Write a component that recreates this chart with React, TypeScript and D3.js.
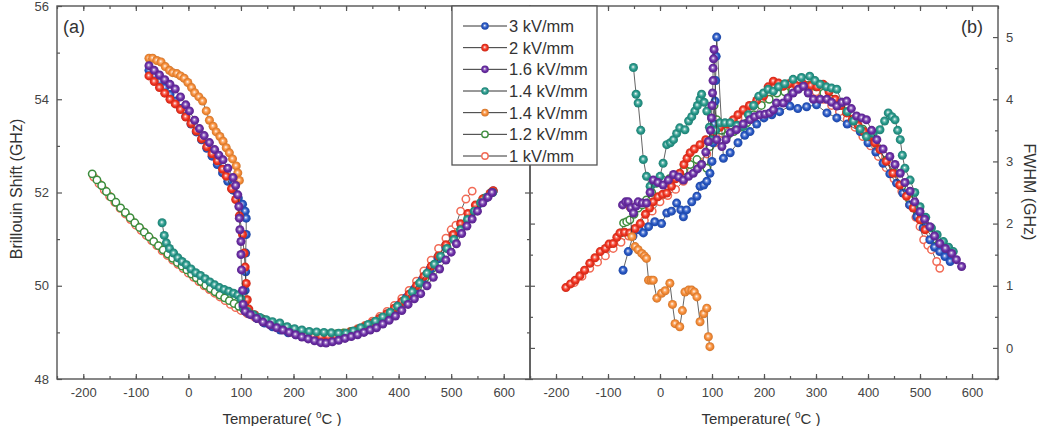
import React, { useRef, useEffect } from "react";
import * as d3 from "d3";

// series labels (legend order)
const seriesLabels = ["3 kV/mm", "2 kV/mm", "1.6 kV/mm", "1.4 kV/mm", "1.4 kV/mm", "1.2 kV/mm", "1 kV/mm"];

// tick values
const shiftTicks = [48, 50, 52, 54, 56];
const fwhmTicks = [0, 1, 2, 3, 4, 5];
const tempTicks = [-200, -100, 0, 100, 200, 300, 400, 500, 600];

// panel (a): Brillouin shift (GHz) vs temperature (C)
const bs3 = [[-75,54.62],[-65,54.5],[-55,54.38],[-45,54.25],[-35,54.1],[-25,53.96],[-15,53.8],[-5,53.63],[5,53.47],[15,53.3],[25,53.13],[35,52.95],[45,52.78],[55,52.6],[65,52.42],[75,52.24],[85,52.05],[95,51.88],[103,51.75],[108,51.6],[110,51.45],[110,51.1],[109,50.7],[109,50.3],[108,49.9],[108,49.55],[115,49.4],[130,49.3],[145,49.2],[160,49.12],[175,49.05],[190,48.99],[205,48.95],[220,48.92],[235,48.9],[250,48.88],[265,48.88],[280,48.9],[295,48.93],[310,48.97],[325,49.03],[340,49.1],[355,49.2],[370,49.3],[385,49.43],[400,49.58],[415,49.75],[430,49.93],[445,50.13],[460,50.35],[475,50.58],[490,50.82],[505,51.06],[520,51.3],[535,51.53],[550,51.72],[565,51.88],[580,52.03]];
const bs2 = [[-75,54.5],[-65,54.38],[-55,54.25],[-45,54.13],[-35,54.0],[-25,53.9],[-15,53.78],[-5,53.62],[5,53.48],[15,53.32],[25,53.15],[35,52.98],[45,52.83],[55,52.68],[65,52.5],[72,52.35],[82,52.08],[90,51.85],[97,51.5],[103,51.1],[106,50.7],[108,50.4],[110,50.05],[112,49.7],[115,49.5],[126,49.38],[140,49.28],[154,49.2],[168,49.13],[182,49.06],[196,49.01],[210,48.97],[224,48.94],[238,48.92],[252,48.91],[266,48.91],[280,48.92],[294,48.95],[308,48.99],[322,49.05],[336,49.12],[350,49.2],[364,49.3],[378,49.4],[392,49.52],[406,49.66],[420,49.82],[434,50.0],[448,50.2],[462,50.42],[476,50.64],[490,50.88],[504,51.1],[518,51.33],[532,51.55],[546,51.73],[560,51.86],[574,51.98],[580,52.04]];
const bs16 = [[-75,54.72],[-65,54.62],[-55,54.52],[-45,54.42],[-35,54.32],[-25,54.22],[-15,54.05],[-5,53.88],[2,53.75],[12,53.55],[21,53.37],[30,53.22],[40,53.07],[50,52.92],[58,52.8],[66,52.7],[75,52.52],[85,52.32],[90,52.15],[94,51.95],[96,51.7],[97,51.45],[98,51.2],[100,50.95],[100,50.67],[101,50.34],[103,49.9],[104,49.6],[108,49.45],[118,49.38],[130,49.3],[142,49.22],[155,49.16],[168,49.1],[180,49.05],[192,49.0],[204,48.95],[216,48.9],[228,48.86],[240,48.82],[252,48.78],[262,48.77],[274,48.8],[286,48.83],[298,48.87],[310,48.91],[322,48.95],[334,49.0],[346,49.05],[358,49.1],[370,49.18],[382,49.26],[394,49.35],[406,49.47],[418,49.6],[430,49.72],[442,49.83],[454,50.0],[466,50.18],[478,50.36],[490,50.55],[500,50.72],[510,50.9],[520,51.12],[530,51.28],[540,51.43],[550,51.6],[560,51.78],[570,51.9],[578,52.0]];
const bs14a = [[-50,51.35],[-46,51.08],[-42,50.92],[-36,50.8],[-28,50.7],[-20,50.6],[-12,50.52],[-4,50.45],[5,50.36],[14,50.28],[23,50.22],[32,50.15],[41,50.08],[50,50.02],[59,49.96],[68,49.92],[77,49.88],[86,49.84],[94,49.8],[100,49.72],[104,49.55],[112,49.45],[124,49.38],[136,49.32],[148,49.27],[160,49.23],[174,49.2],[188,49.12],[202,49.08],[216,49.05],[230,49.02],[244,49.01],[258,49.0],[272,48.99],[286,48.98],[300,48.98],[314,49.03],[328,49.1],[342,49.17],[356,49.24],[370,49.33],[384,49.43],[398,49.56],[412,49.7],[426,49.87],[440,50.06],[454,50.27],[468,50.46],[480,50.63],[492,50.8],[505,50.99],[518,51.2],[531,51.42],[544,51.6],[556,51.78],[568,51.9],[579,52.0]];
const bs14b = [[-75,54.88],[-68,54.88],[-60,54.83],[-52,54.8],[-44,54.7],[-36,54.62],[-30,54.57],[-22,54.55],[-15,54.5],[-8,54.45],[-1,54.36],[6,54.25],[12,54.14],[20,54.05],[27,53.96],[34,53.75],[40,53.55],[47,53.42],[53,53.3],[60,53.2],[66,53.1],[72,52.96],[78,52.85],[84,52.72],[91,52.57],[94,52.42],[97,52.26]];
const bs12 = [[-183,52.4],[-174,52.27],[-165,52.15],[-156,52.02],[-147,51.9],[-138,51.79],[-129,51.67],[-120,51.57],[-111,51.46],[-102,51.35],[-93,51.25],[-84,51.15],[-75,51.05],[-66,50.95],[-57,50.86],[-48,50.77],[-39,50.68],[-30,50.59],[-21,50.5],[-12,50.42],[-3,50.34],[6,50.25],[15,50.17],[24,50.09],[33,50.01],[42,49.94],[51,49.87],[60,49.8],[69,49.74],[78,49.68],[87,49.62],[96,49.56],[105,49.5],[116,49.42],[128,49.35],[142,49.28],[156,49.22],[170,49.16],[184,49.1],[198,49.06],[212,49.02],[226,48.99],[240,48.97],[254,48.96],[268,48.96],[282,48.97],[296,48.99],[310,49.02],[324,49.07],[338,49.13],[352,49.2],[366,49.29],[380,49.39],[394,49.5],[408,49.64],[422,49.8],[436,49.97],[450,50.16],[464,50.37],[478,50.59],[492,50.83],[506,51.07],[520,51.3],[534,51.52],[548,51.72],[562,51.87],[576,52.0]];
const bs1 = [[-180,52.33],[-170,52.19],[-160,52.05],[-150,51.92],[-140,51.79],[-130,51.66],[-120,51.54],[-110,51.42],[-100,51.3],[-90,51.19],[-80,51.08],[-70,50.97],[-60,50.86],[-50,50.75],[-40,50.65],[-30,50.55],[-20,50.46],[-10,50.37],[0,50.27],[10,50.18],[20,50.09],[30,50.0],[40,49.92],[50,49.84],[60,49.76],[70,49.68],[80,49.6],[90,49.53],[100,49.47],[112,49.4],[126,49.33],[140,49.26],[154,49.2],[168,49.14],[182,49.08],[196,49.03],[210,48.99],[224,48.96],[238,48.94],[252,48.93],[266,48.93],[280,48.95],[294,48.98],[308,49.02],[322,49.08],[336,49.15],[350,49.24],[364,49.34],[378,49.45],[392,49.58],[406,49.73],[420,49.9],[434,50.1],[448,50.32],[462,50.55],[476,50.8],[490,51.02],[500,51.2],[509,51.3],[518,51.6],[528,51.86],[540,52.03]];

// panel (b): FWHM (GHz) vs temperature (C)
const fw3 = [[-71,1.25],[-61,1.55],[-52,1.8],[-40,1.9],[-32,1.85],[-22,1.95],[-10,2.03],[3,2.0],[13,2.17],[22,2.2],[32,2.33],[40,2.22],[45,2.11],[51,2.22],[61,2.35],[71,2.44],[77,2.6],[84,2.62],[90,2.68],[96,2.81],[100,3.0],[102,3.3],[104,3.6],[106,3.97],[107,4.3],[108,4.69],[109,5.0],[122,3.05],[135,3.14],[150,3.3],[163,3.42],[173,3.48],[186,3.6],[200,3.7],[215,3.75],[230,3.8],[250,3.89],[265,3.85],[282,3.88],[301,3.91],[321,3.78],[340,3.7],[360,3.6],[385,3.48],[400,3.3],[415,3.15],[429,2.97],[442,2.8],[455,2.65],[467,2.49],[480,2.3],[494,2.11],[506,1.93],[519,1.74],[528,1.62],[538,1.55],[548,1.47],[558,1.39]];
const fw2 = [[-181,0.97],[-172,1.03],[-163,1.09],[-154,1.16],[-145,1.25],[-135,1.36],[-125,1.45],[-115,1.55],[-105,1.6],[-98,1.67],[-90,1.68],[-83,1.78],[-77,1.85],[-68,1.86],[-58,1.85],[-48,1.92],[-38,2.0],[-28,2.15],[-20,2.25],[-13,2.35],[-4,2.43],[5,2.47],[13,2.49],[22,2.6],[30,2.72],[38,2.81],[46,2.95],[52,3.05],[58,3.14],[66,3.2],[77,3.27],[88,3.35],[102,3.46],[115,3.55],[128,3.6],[141,3.67],[150,3.75],[160,3.83],[172,3.9],[186,3.98],[199,4.05],[208,4.2],[218,4.29],[228,4.26],[237,4.21],[248,4.25],[262,4.22],[276,4.24],[290,4.22],[302,4.2],[314,4.24],[325,4.12],[337,4.0],[348,3.9],[359,3.78],[370,3.68],[381,3.58],[392,3.48],[402,3.4],[413,3.3],[423,3.19],[435,3.0],[448,2.81],[461,2.62],[474,2.44],[487,2.25],[500,2.06],[510,1.9]];
const fw16 = [[-72,2.3],[-66,2.35],[-61,2.35],[-56,2.25],[-51,2.17],[-46,2.28],[-42,2.35],[-34,2.33],[-26,2.33],[-19,2.5],[-13,2.7],[-4,2.66],[6,2.62],[16,2.7],[26,2.79],[36,2.75],[45,2.7],[55,2.76],[64,2.81],[72,2.88],[80,2.95],[88,3.15],[93,3.32],[97,3.5],[99,3.7],[100,3.9],[101,4.1],[102,4.3],[102,4.5],[103,4.65],[104,4.8],[109,3.35],[119,3.24],[127,3.35],[135,3.46],[147,3.51],[160,3.6],[173,3.67],[182,3.72],[192,3.75],[202,3.76],[211,3.78],[218,3.83],[224,3.94],[237,3.94],[246,4.02],[256,4.1],[266,4.16],[276,4.21],[285,4.1],[295,4.0],[308,4.0],[321,4.0],[330,3.95],[340,3.89],[350,3.95],[359,3.97],[368,3.85],[378,3.73],[388,3.7],[397,3.67],[407,3.5],[417,3.35],[429,3.2],[442,3.08],[452,2.95],[462,2.81],[471,2.66],[481,2.52],[490,2.35],[500,2.19],[509,2.07],[519,1.95],[528,1.8],[538,1.68],[549,1.6],[561,1.52],[570,1.42],[580,1.31]];
const fw14a = [[-51,4.51],[-46,4.08],[-42,3.94],[-37,3.5],[-32,3.03],[-26,2.76],[-19,2.6],[-10,2.65],[0,2.76],[6,2.97],[13,3.27],[20,3.3],[26,3.35],[32,3.45],[38,3.54],[48,3.51],[55,3.65],[61,3.72],[67,3.81],[72,3.9],[77,4.0],[80,4.08],[85,3.95],[90,3.81],[95,3.55],[99,3.35],[107,3.5],[115,3.62],[125,3.62],[135,3.62],[148,3.58],[160,3.56],[170,3.75],[180,3.9],[190,4.05],[199,4.1],[208,4.16],[218,4.13],[228,4.2],[240,4.25],[256,4.32],[272,4.35],[288,4.37],[298,4.3],[308,4.24],[320,4.2],[330,4.18],[340,4.16],[350,3.95],[360,3.8],[372,3.65],[385,3.52],[397,3.4],[410,3.45],[423,3.51],[432,3.65],[439,3.78],[446,3.72],[452,3.67],[457,3.5],[462,3.35],[466,3.1],[471,2.89],[481,2.7],[490,2.5],[500,2.27],[511,2.1],[522,1.93],[533,1.82],[545,1.71],[555,1.62],[564,1.55]];
const fw14b = [[-58,2.27],[-54,1.79],[-48,1.63],[-42,1.58],[-35,1.52],[-30,1.48],[-26,1.44],[-22,1.09],[-17,1.09],[-13,1.09],[-6,0.8],[3,0.88],[10,0.92],[19,1.04],[24,0.7],[29,0.39],[38,0.34],[43,0.6],[48,0.9],[55,0.93],[61,0.93],[66,0.9],[71,0.82],[77,0.42],[84,0.55],[90,0.64],[93,0.18],[96,0.02]];
const fw12 = [[-75,1.85],[-70,2.01],[-64,2.03],[-58,2.06],[-50,2.15],[-42,2.25],[-34,2.3],[-26,2.38],[-16,2.5],[-6,2.65],[5,2.7],[18,2.72],[32,2.76],[45,2.85],[58,2.95],[71,3.03],[80,2.95],[90,2.89],[96,3.24],[100,3.5],[104,3.9],[109,3.67],[118,3.5],[130,3.42],[142,3.48],[155,3.55],[167,3.62],[180,3.75],[195,3.9],[210,4.0],[225,4.1],[240,4.12],[255,4.15],[270,4.2],[285,4.22],[300,4.2],[315,4.1],[330,4.0],[345,3.9],[360,3.8],[375,3.68],[390,3.52],[405,3.38],[420,3.2],[435,3.02],[450,2.82],[465,2.6],[480,2.38],[495,2.15],[510,1.95],[525,1.75],[540,1.6],[555,1.48]];
const fw1 = [[-165,1.05],[-150,1.15],[-135,1.28],[-120,1.38],[-105,1.48],[-90,1.6],[-75,1.7],[-60,1.8],[-45,1.9],[-30,2.05],[-15,2.2],[0,2.35],[15,2.45],[30,2.55],[45,2.68],[60,2.85],[75,3.0],[90,3.12],[105,3.3],[120,3.45],[135,3.58],[150,3.7],[165,3.8],[180,3.9],[195,4.0],[210,4.1],[225,4.15],[240,4.18],[255,4.2],[270,4.2],[285,4.18],[300,4.12],[315,4.0],[330,3.9],[345,3.8],[360,3.68],[375,3.55],[390,3.4],[405,3.25],[420,3.08],[435,2.9],[450,2.72],[465,2.52],[480,2.3],[492,2.1],[500,1.95],[507,1.74],[515,1.65],[522,1.58],[532,1.39],[538,1.28]];

const styles = [
  { key: "s3", color: "#2656c4", hollow: false },
  { key: "s2", color: "#f2321f", hollow: false },
  { key: "s16", color: "#6a2ca6", hollow: false },
  { key: "s14a", color: "#26988a", hollow: false },
  { key: "s14b", color: "#f78c36", hollow: false },
  { key: "s12", color: "#3c8c3c", hollow: true },
  { key: "s1", color: "#f26a55", hollow: true },
];

const panelA = [bs3, bs2, bs16, bs14a, bs14b, bs12, bs1];
const panelB = [fw3, fw2, fw16, fw14a, fw14b, fw12, fw1];
// drawing order (later on top)
const drawOrder = [6, 5, 0, 1, 4, 3, 2];

const W = 1039, H = 426;
const top = 6, bottom = 379;
const font = "'Liberation Sans', Arial, sans-serif";

export default function App() {
  const ref = useRef(null);

  useEffect(() => {
    const svg = d3.select(ref.current);
    svg.selectAll("*").remove();

    const defs = svg.append("defs");
    styles.forEach(s => {
      const g = defs.append("radialGradient")
        .attr("id", "ball-" + s.key)
        .attr("cx", "0.5").attr("cy", "0.5").attr("r", "0.5")
        .attr("fx", "0.45").attr("fy", "0.42");
      g.append("stop").attr("offset", "0%").attr("stop-color", "#ffffff");
      g.append("stop").attr("offset", "30%").attr("stop-color", d3.interpolateRgb(s.color, "#fff")(0.35));
      g.append("stop").attr("offset", "60%").attr("stop-color", s.color);
      g.append("stop").attr("offset", "100%").attr("stop-color", d3.color(s.color).darker(0.5).toString());
    });

    const xA = d3.scaleLinear().domain([-250, 650]).range([57, 530]);
    const yA = d3.scaleLinear().domain([48, 56]).range([bottom, top]);
    const xB = d3.scaleLinear().domain([-250, 650]).range([530, 998]);
    const yB = d3.scaleLinear().domain([-0.5, 5.5]).range([bottom, top]);

    function drawPanel(data, x, y) {
      const line = d3.line().x(d => x(d[0])).y(d => y(d[1]));
      drawOrder.forEach(i => {
        const s = styles[i];
        const g = svg.append("g");
        g.append("path")
          .attr("d", line(data[i]))
          .attr("fill", "none")
          .attr("stroke", "#333")
          .attr("stroke-width", 0.9)
          .attr("stroke-opacity", 0.85);
        g.selectAll("circle")
          .data(data[i])
          .enter()
          .append("circle")
          .attr("cx", d => x(d[0]))
          .attr("cy", d => y(d[1]))
          .attr("r", s.hollow ? 3.7 : 4.5)
          .attr("fill", s.hollow ? "#fff" : `url(#ball-${s.key})`)
          .attr("stroke", s.hollow ? s.color : "none")
          .attr("stroke-width", s.hollow ? 1.5 : 0);
      });
    }

    drawPanel(panelA, xA, yA);
    drawPanel(panelB, xB, yB);

    // axes: ticks point inward on all sides
    const fmt = d => String(d);
    const axisStyle = g => {
      g.selectAll("path.domain").remove();
      g.selectAll("line").attr("stroke", "#555").attr("stroke-width", 1.2);
      g.selectAll("text").style("font-family", font).style("font-size", "13px").attr("fill", "#444");
    };
    const minorT = d3.range(-250, 651, 50);

    function frameAxes(x, y, yMajor, yMinor, labelSide) {
      const x0 = x.range()[0], x1 = x.range()[1];
      svg.append("g").attr("transform", `translate(0,${bottom})`)
        .call(d3.axisBottom(x).tickValues(minorT).tickSize(-3).tickFormat(""))
        .call(axisStyle);
      svg.append("g").attr("transform", `translate(0,${bottom})`)
        .call(d3.axisBottom(x).tickValues(tempTicks).tickSize(-5).tickPadding(9).tickFormat(fmt))
        .call(axisStyle);
      svg.append("g").attr("transform", `translate(0,${top})`)
        .call(d3.axisTop(x).tickValues(minorT).tickSize(-3).tickFormat(""))
        .call(axisStyle);
      svg.append("g").attr("transform", `translate(0,${top})`)
        .call(d3.axisTop(x).tickValues(tempTicks).tickSize(-5).tickFormat(""))
        .call(axisStyle);

      const leftMajor = labelSide === "left"
        ? d3.axisLeft(y).tickValues(yMajor).tickSize(-5).tickPadding(8).tickFormat(fmt)
        : d3.axisLeft(y).tickValues(yMajor).tickSize(-5).tickFormat("");
      const rightMajor = labelSide === "right"
        ? d3.axisRight(y).tickValues(yMajor).tickSize(-5).tickPadding(8).tickFormat(fmt)
        : d3.axisRight(y).tickValues(yMajor).tickSize(-5).tickFormat("");
      svg.append("g").attr("transform", `translate(${x0},0)`).call(leftMajor).call(axisStyle);
      svg.append("g").attr("transform", `translate(${x0},0)`)
        .call(d3.axisLeft(y).tickValues(yMinor).tickSize(-3).tickFormat("")).call(axisStyle);
      svg.append("g").attr("transform", `translate(${x1},0)`).call(rightMajor).call(axisStyle);
      svg.append("g").attr("transform", `translate(${x1},0)`)
        .call(d3.axisRight(y).tickValues(yMinor).tickSize(-3).tickFormat("")).call(axisStyle);

      svg.append("rect")
        .attr("x", x0).attr("y", top)
        .attr("width", x1 - x0).attr("height", bottom - top)
        .attr("fill", "none").attr("stroke", "#555").attr("stroke-width", 1.4);
    }

    frameAxes(xA, yA, shiftTicks, [49, 51, 53, 55], "left");
    frameAxes(xB, yB, fwhmTicks, [-0.5, 0.5, 1.5, 2.5, 3.5, 4.5], "right");

    // axis titles
    const title = (tx, ty, rot, text) => svg.append("text")
      .attr("transform", `translate(${tx},${ty}) rotate(${rot})`)
      .attr("text-anchor", "middle")
      .style("font-family", font).style("font-size", "16px")
      .attr("fill", "#333")
      .text(text);
    title(22, 189, -90, "Brillouin Shift (GHz)");
    title(1024, 192, 90, "FWHM (GHz)");

    [282, 761].forEach(cx => {
      const t = svg.append("text")
        .attr("x", cx).attr("y", 424)
        .attr("text-anchor", "middle")
        .style("font-family", font).style("font-size", "15px")
        .attr("fill", "#333");
      t.append("tspan").text("Temperature( ");
      t.append("tspan").attr("dy", -6).style("font-size", "10px").text("o");
      t.append("tspan").attr("dy", 6).text("C )");
    });

    svg.append("text").attr("x", 63).attr("y", 33)
      .style("font-family", font).style("font-size", "18px").attr("fill", "#333").text("(a)");
    svg.append("text").attr("x", 961).attr("y", 33)
      .style("font-family", font).style("font-size", "18px").attr("fill", "#333").text("(b)");

    // legend
    const lg = svg.append("g");
    lg.append("rect")
      .attr("x", 452).attr("y", top).attr("width", 145).attr("height", 159)
      .attr("fill", "#fff").attr("stroke", "#555").attr("stroke-width", 1.3);
    const ly = d3.scaleLinear().domain([0, 6]).range([26, 156]);
    seriesLabels.forEach((lab, i) => {
      const s = styles[i];
      const yy = ly(i);
      lg.append("line").attr("x1", 463).attr("x2", 507).attr("y1", yy).attr("y2", yy)
        .attr("stroke", "#333").attr("stroke-width", 1);
      lg.append("circle").attr("cx", 485).attr("cy", yy).attr("r", s.hollow ? 3.2 : 3.8)
        .attr("fill", s.hollow ? "#fff" : `url(#ball-${s.key})`)
        .attr("stroke", s.hollow ? s.color : "none").attr("stroke-width", 1.4);
      lg.append("text").attr("x", 509).attr("y", yy).attr("dy", "0.36em")
        .style("font-family", font).style("font-size", "16.5px").attr("fill", "#333")
        .text(lab);
    });
  }, []);

  return (
    <div style={{ position: "absolute", left: 0, top: 0 }}>
      <svg ref={ref} width={W} height={H} style={{ display: "block", background: "#fff" }}></svg>
    </div>
  );
}
